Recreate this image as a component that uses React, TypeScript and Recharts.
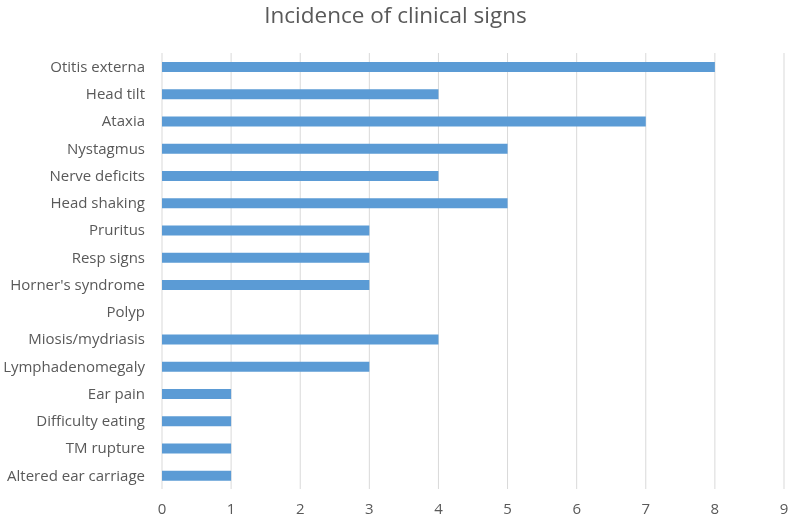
import { BarChart, Bar, XAxis, YAxis, CartesianGrid } from "recharts";

const signs = [
  "Otitis externa", "Head tilt", "Ataxia", "Nystagmus", "Nerve deficits", "Head shaking",
  "Pruritus", "Resp signs", "Horner's syndrome", "Polyp", "Miosis/mydriasis", "Lymphadenomegaly",
  "Ear pain", "Difficulty eating", "TM rupture", "Altered ear carriage",
];
const counts = [8, 4, 7, 5, 4, 5, 3, 3, 3, 0, 4, 3, 1, 1, 1, 1];
const xTicks = [0, 1, 2, 3, 4, 5, 6, 7, 8, 9];

const data = signs.map((name, i) => ({ name, count: counts[i] }));

const font = "'Open Sans', sans-serif";
const tick = { fontSize: 15, fill: "#595959", fontFamily: font };

export default function App() {
  return (
    <div style={{ position: "fixed", left: 0, top: 0, width: 791, height: 520, background: "#fff" }}>
      <div style={{ position: "absolute", top: 0, left: 0, width: 791, textAlign: "center", fontFamily: font, fontSize: 22.5, color: "#595959", lineHeight: "30px" }}>
        Incidence of clinical signs
      </div>
      <BarChart width={791} height={520} data={data} layout="vertical" margin={{ top: 53, right: 7, bottom: 0, left: 0 }}>
        <CartesianGrid horizontal={false} stroke="#d9d9d9" />
        <XAxis type="number" domain={[0, 9]} ticks={xTicks} interval={0} tick={tick} tickLine={false} axisLine={false} height={31} tickMargin={8} />
        <YAxis type="category" dataKey="name" tick={tick} tickLine={false} axisLine={false} width={162} interval={0} tickMargin={11} />
        <Bar dataKey="count" fill="#5b9bd5" barSize={10} isAnimationActive={false} />
      </BarChart>
    </div>
  );
}
